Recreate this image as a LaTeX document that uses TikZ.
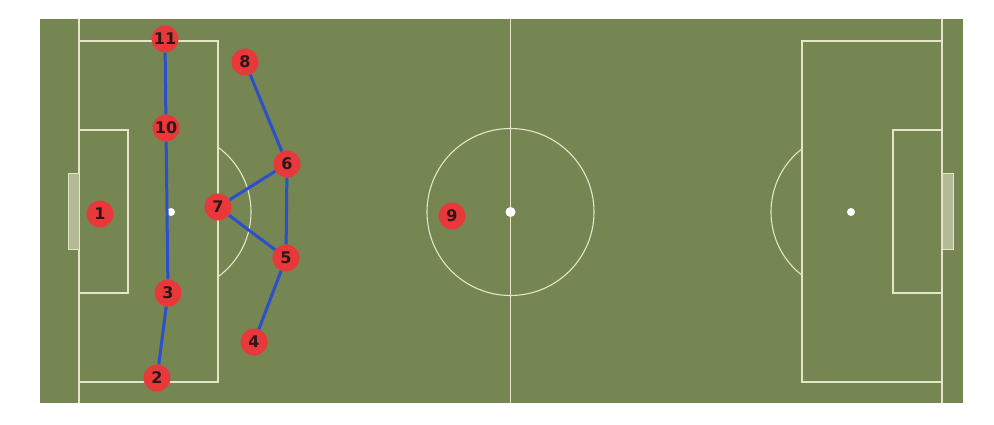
\documentclass[tikz,border=0pt]{standalone}
\usepackage{fontspec}
\setmainfont{DejaVu Sans}
\definecolor{grass}{HTML}{758653}
\definecolor{chalk}{HTML}{E4E6C6}
\definecolor{goalfill}{HTML}{B3BB96}
\definecolor{player}{HTML}{E8383A}
\definecolor{link}{HTML}{2E4FCB}
\definecolor{numtxt}{HTML}{2A1818}
\tikzset{
  chalkline/.style={draw=chalk, line width=1.5pt},
  playernode/.style={circle, fill=player, minimum size=27pt, inner sep=0pt,
    text=numtxt, font=\fontsize{16}{17}\selectfont\bfseries},
  linkline/.style={draw=link, line width=3pt},
}
\begin{document}
\begin{tikzpicture}[x=1pt, y=-1pt]
\useasboundingbox (0,0) rectangle (994,425);
% grass
\fill[grass] (40,19) rectangle (963,403);
% goal lines and halfway line
\draw[chalkline] (79,19) -- (79,403);
\draw[chalkline] (942,19) -- (942,403);
\draw[chalkline] (510.5,19) -- (510.5,403);
% left penalty box and goal area
\draw[chalkline] (79,41) -- (218,41) -- (218,382) -- (79,382);
\draw[chalkline] (79,130) -- (128,130) -- (128,293) -- (79,293);
% right penalty box and goal area
\draw[chalkline] (942,41) -- (802,41) -- (802,382) -- (942,382);
\draw[chalkline] (942,130) -- (893,130) -- (893,293) -- (942,293);
% goals
\filldraw[fill=goalfill, draw=chalk, line width=1pt] (68,174) rectangle (79,249);
\filldraw[fill=goalfill, draw=chalk, line width=1pt] (942,174) rectangle (953,249);
% penalty arcs
\begin{scope}
\clip (218,19) rectangle (400,403);
\draw[chalkline, line width=1.1pt] (171,212) circle (80);
\end{scope}
\begin{scope}
\clip (600,19) rectangle (802,403);
\draw[chalkline, line width=1.1pt] (851,212) circle (80);
\end{scope}
% centre circle and spots
\draw[chalkline, line width=1.1pt] (510.5,212) circle (83.5);
\fill[white] (510.5,212) circle (5);
\fill[white] (171,212) circle (4);
\fill[white] (851,212) circle (4);
% players
\node[playernode] (p11) at (165,39) {11};
\node[playernode] (p10) at (166,128) {10};
\node[playernode] (p8) at (245,62) {8};
\node[playernode] (p6) at (287,164) {6};
\node[playernode] (p7) at (218,207) {7};
\node[playernode] (p5) at (286,258) {5};
\node[playernode] (p3) at (168,293) {3};
\node[playernode] (p4) at (254,342) {4};
\node[playernode] (p2) at (157,378) {2};
\node[playernode] (p1) at (100,214) {1};
\node[playernode] (p9) at (452,216) {9};
% links
\draw[linkline] (p11) -- (p10);
\draw[linkline] (p10) -- (p3);
\draw[linkline] (p3) -- (p2);
\draw[linkline] (p8) -- (p6);
\draw[linkline] (p6) -- (p7);
\draw[linkline] (p6) -- (p5);
\draw[linkline] (p7) -- (p5);
\draw[linkline] (p5) -- (p4);
\end{tikzpicture}
\end{document}
